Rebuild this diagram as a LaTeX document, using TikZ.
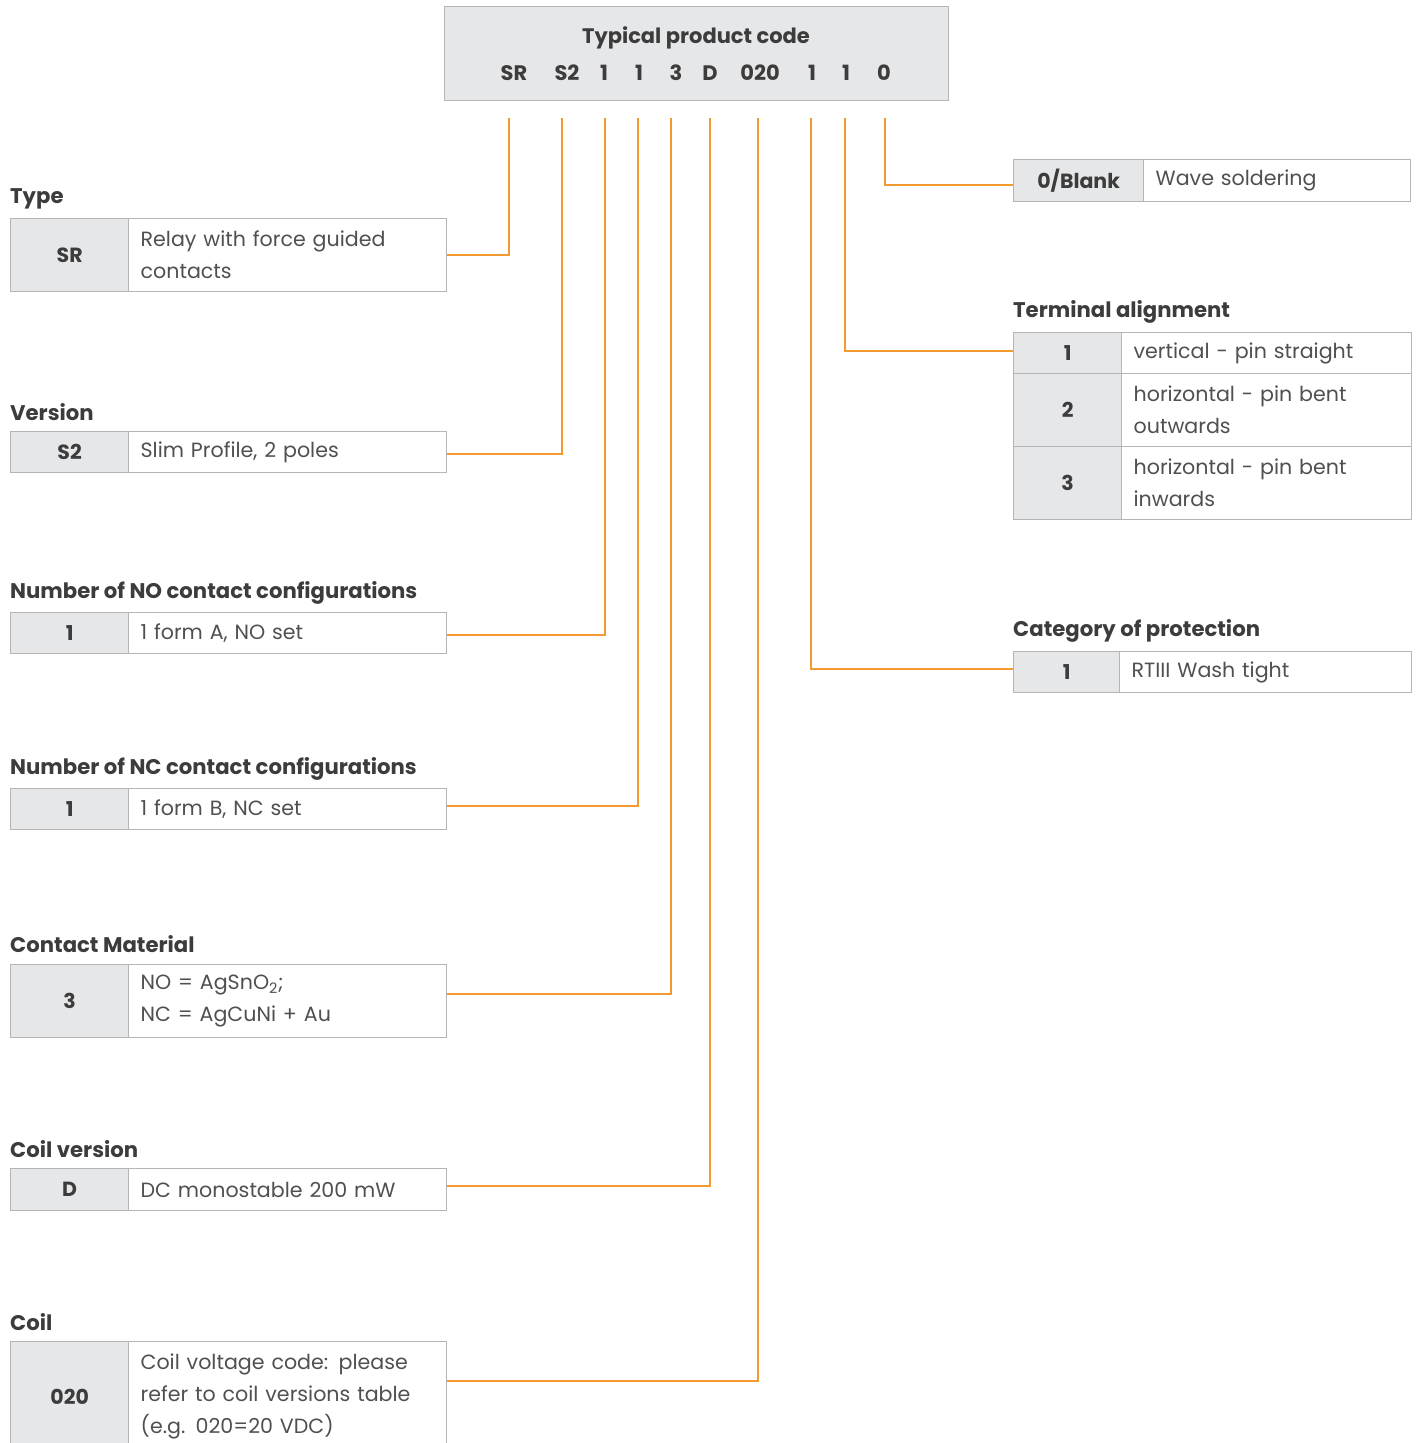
\documentclass[tikz,border=0pt]{standalone}
\usepackage{fontspec}
\setmainfont{Poppins}
\definecolor{org}{HTML}{F39B31}
\definecolor{keyfill}{HTML}{E6E7E9}
\definecolor{bordc}{HTML}{B5B5B5}
\definecolor{darktxt}{HTML}{3C3C3C}
\definecolor{midtxt}{HTML}{505050}
\tikzset{
  keycell/.style={draw=bordc, fill=keyfill, line width=1.3pt, anchor=north west, inner sep=0pt,
     font=\fontsize{20.5}{32}\selectfont\bfseries, text=darktxt},
  desccell/.style={draw=bordc, fill=white, line width=1.3pt, anchor=north west, inner xsep=12pt, inner ysep=0pt,
     align=left, font=\fontsize{20.6}{32}\selectfont, text=midtxt},
  heading/.style={anchor=west, inner sep=0pt, font=\fontsize{21.2}{24}\selectfont\bfseries, text=darktxt},
  codetxt/.style={inner sep=0pt, font=\fontsize{21}{24}\selectfont\bfseries, text=darktxt},
  conn/.style={draw=org, line width=2pt},
}
\begin{document}
\begin{tikzpicture}[x=1pt,y=-1pt]
\clip (0,0) rectangle (1418,1443);
\fill[white] (0,0) rectangle (1418,1443);

% header
\node[draw=bordc, fill=keyfill, line width=1.3pt, anchor=north west, minimum width=504pt, minimum height=94pt, inner sep=0pt] (hdr) at (444,6) {};
\node[codetxt] (title) at (696,38) {Typical product code};
\node[codetxt] (kSR) at (514,73) {SR};
\node[codetxt] (kS2) at (567,73) {S2};
\node[codetxt] (kNO) at (604,73) {1};
\node[codetxt] (kNC) at (639,73) {1};
\node[codetxt] (kCM) at (676,73) {3};
\node[codetxt] (kCV) at (710,73) {D};
\node[codetxt] (kCO) at (760,73) {020};
\node[codetxt] (kCP) at (812,73) {1};
\node[codetxt] (kTA) at (846,73) {1};
\node[codetxt] (kWS) at (884,73) {0};

% connector tops
\coordinate (tSR) at (509,118);
\coordinate (tS2) at (562,118);
\coordinate (tNO) at (605,118);
\coordinate (tNC) at (638,118);
\coordinate (tCM) at (671,118);
\coordinate (tCV) at (710,118);
\coordinate (tCO) at (758,118);
\coordinate (tCP) at (811,118);
\coordinate (tTA) at (845,118);
\coordinate (tWS) at (885,118);

% ---------- left column ----------
\node[heading] (hType) at (10,199) {Type};
\node[keycell, minimum width=118pt, minimum height=73pt] (aType) at (10,218) {SR};
\node[desccell, text width=294pt, minimum height=73pt] (dType) at (128,218) {Relay with force guided\\contacts};

\node[heading] (hVer) at (10,412) {Version};
\node[keycell, minimum width=118pt, minimum height=41pt] (aVer) at (10,431) {S2};
\node[desccell, text width=294pt, minimum height=41pt] (dVer) at (128,431) {Slim Profile, 2 poles};

\node[heading] (hNO) at (10,593) {Number of NO contact configurations};
\node[keycell, minimum width=118pt, minimum height=41pt] (aNO) at (10,612) {1};
\node[desccell, text width=294pt, minimum height=41pt] (dNO) at (128,612) {1 form A, NO set};

\node[heading] (hNC) at (10,769) {Number of NC contact configurations};
\node[keycell, minimum width=118pt, minimum height=41pt] (aNC) at (10,788) {1};
\node[desccell, text width=294pt, minimum height=41pt] (dNC) at (128,788) {1 form B, NC set};

\node[heading] (hCM) at (10,944) {Contact Material};
\node[keycell, minimum width=118pt, minimum height=73pt] (aCM) at (10,964) {3};
\node[desccell, text width=294pt, minimum height=73pt] (dCM) at (128,964) {NO = AgSnO\textsubscript{2};\\NC = AgCuNi + Au};

\node[heading] (hCV) at (10,1149) {Coil version};
\node[keycell, minimum width=118pt, minimum height=42pt] (aCV) at (10,1168) {D};
\node[desccell, text width=294pt, minimum height=42pt] (dCV) at (128,1168) {DC monostable 200 mW};

\node[heading] (hCO) at (10,1322) {Coil};
\node[keycell, minimum width=118pt, minimum height=110pt] (aCO) at (10,1341) {020};
\node[desccell, text width=294pt, minimum height=110pt] (dCO) at (128,1341) {Coil voltage code: please\\refer to coil versions table\\(e.g. 020=20 VDC)};

% ---------- right column ----------
\node[keycell, minimum width=130pt, minimum height=42pt] (aWS) at (1013,159) {0/Blank};
\node[desccell, text width=243pt, minimum height=42pt, inner xsep=12pt] (dWS) at (1143,159) {Wave soldering};

\node[heading] (hTA) at (1013,312) {Terminal alignment};
\node[keycell, minimum width=108pt, minimum height=41pt] (aTA1) at (1013,332) {1};
\node[desccell, text width=266pt, minimum height=41pt] (dTA1) at (1121,332) {vertical - pin straight};
\node[keycell, minimum width=108pt, minimum height=73pt] (aTA2) at (1013,373) {2};
\node[desccell, text width=266pt, minimum height=73pt] (dTA2) at (1121,373) {horizontal - pin bent\\outwards};
\node[keycell, minimum width=108pt, minimum height=73pt] (aTA3) at (1013,446) {3};
\node[desccell, text width=266pt, minimum height=73pt] (dTA3) at (1121,446) {horizontal - pin bent\\inwards};

\node[heading] (hCP) at (1013,631) {Category of protection};
\node[keycell, minimum width=106pt, minimum height=41pt] (aCP) at (1013,651) {1};
\node[desccell, text width=268pt, minimum height=41pt] (dCP) at (1119,651) {RTIII Wash tight};

% ---------- connectors ----------
\draw[conn] (dType.east) -| (tSR);
\draw[conn] ([yshift=-1.5pt]dVer.east) -| (tS2);
\draw[conn] ([yshift=-1.5pt]dNO.east) -| (tNO);
\draw[conn] ([yshift=3.5pt]dNC.east) -| (tNC);
\draw[conn] ([yshift=7pt]dCM.east) -| (tCM);
\draw[conn] ([yshift=4pt]dCV.east) -| (tCV);
\draw[conn] ([yshift=-40pt]dCO.north east) -| (tCO);
\draw[conn] ([yshift=-4.5pt]aWS.west) -| (tWS);
\draw[conn] ([yshift=2pt]aTA1.west) -| (tTA);
\draw[conn] ([yshift=3.5pt]aCP.west) -| (tCP);
\end{tikzpicture}
\end{document}
